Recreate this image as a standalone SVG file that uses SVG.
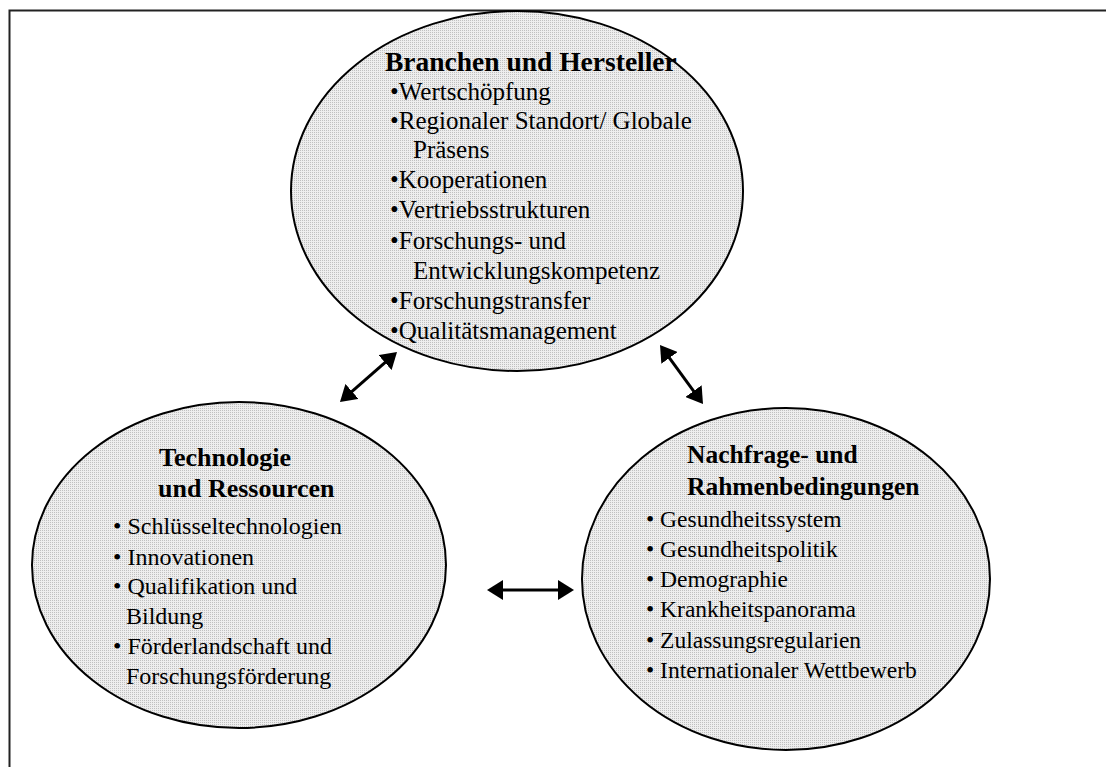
<svg xmlns="http://www.w3.org/2000/svg" width="1106" height="767" viewBox="0 0 1106 767">
<defs>
<pattern id="stipple" width="2" height="2" patternUnits="userSpaceOnUse">
<rect width="2" height="2" fill="#eeeeee"/>
<rect x="0" y="0" width="1" height="1" fill="#c0c0c0"/>
</pattern>
<marker id="head" viewBox="0 0 16 20" markerUnits="userSpaceOnUse" markerWidth="16" markerHeight="20" refX="6" refY="10" orient="auto-start-reverse">
<path d="M0,0 L16,10 L0,20 z" fill="#000"/>
</marker>
</defs>
<style>
.node{fill:url(#stipple);stroke:#000;stroke-width:2}
.t{font-family:"Liberation Serif","Times New Roman",serif;fill:#000}
.b{font-weight:bold}
.conn{stroke:#000;stroke-width:3;fill:none;marker-start:url(#head);marker-end:url(#head)}
</style>
<rect width="1106" height="767" fill="#fff"/>
<path d="M9.5,767 V10.5 H1106" fill="none" stroke="#222" stroke-width="2"/>

<g id="branchen">
<ellipse class="node" cx="517" cy="191" rx="226" ry="180"/>
<text class="t b" x="385" y="71" font-size="27.5">Branchen und Hersteller</text>
<g class="t" font-size="25">
<text x="390" y="100">•Wertschöpfung</text>
<text x="390" y="129">•Regionaler Standort/ Globale</text>
<text x="413" y="158">Präsens</text>
<text x="390" y="188">•Kooperationen</text>
<text x="390" y="218">•Vertriebsstrukturen</text>
<text x="390" y="249">•Forschungs- und</text>
<text x="413" y="279">Entwicklungskompetenz</text>
<text x="390" y="309">•Forschungstransfer</text>
<text x="390" y="339">•Qualitätsmanagement</text>
</g>
</g>

<g id="technologie">
<ellipse class="node" cx="239" cy="565" rx="207" ry="163"/>
<text class="t b" x="159" y="466" font-size="26">Technologie</text>
<text class="t b" x="158" y="497" font-size="26">und Ressourcen</text>
<g class="t" font-size="24">
<text x="113" y="534">• Schlüsseltechnologien</text>
<text x="113" y="565">• Innovationen</text>
<text x="113" y="594">• Qualifikation und</text>
<text x="126" y="624">Bildung</text>
<text x="113" y="654">• Förderlandschaft und</text>
<text x="126" y="684">Forschungsförderung</text>
</g>
</g>

<g id="nachfrage">
<ellipse class="node" cx="786" cy="579" rx="204" ry="171"/>
<text class="t b" x="687" y="463" font-size="25.5">Nachfrage- und</text>
<text class="t b" x="687" y="495" font-size="25.5">Rahmenbedingungen</text>
<g class="t" font-size="23.5">
<text x="646" y="527">• Gesundheitssystem</text>
<text x="646" y="557">• Gesundheitspolitik</text>
<text x="646" y="587">• Demographie</text>
<text x="646" y="617">• Krankheitspanorama</text>
<text x="646" y="648">• Zulassungsregularien</text>
<text x="646" y="678">• Internationaler Wettbewerb</text>
</g>
</g>

<g id="connectors">
<line class="conn" x1="347.5" y1="395.4" x2="389.5" y2="358.6"/>
<line class="conn" x1="665.9" y1="353.1" x2="697.1" y2="395.9"/>
<line class="conn" x1="497" y1="590" x2="564" y2="590"/>
</g>
</svg>
